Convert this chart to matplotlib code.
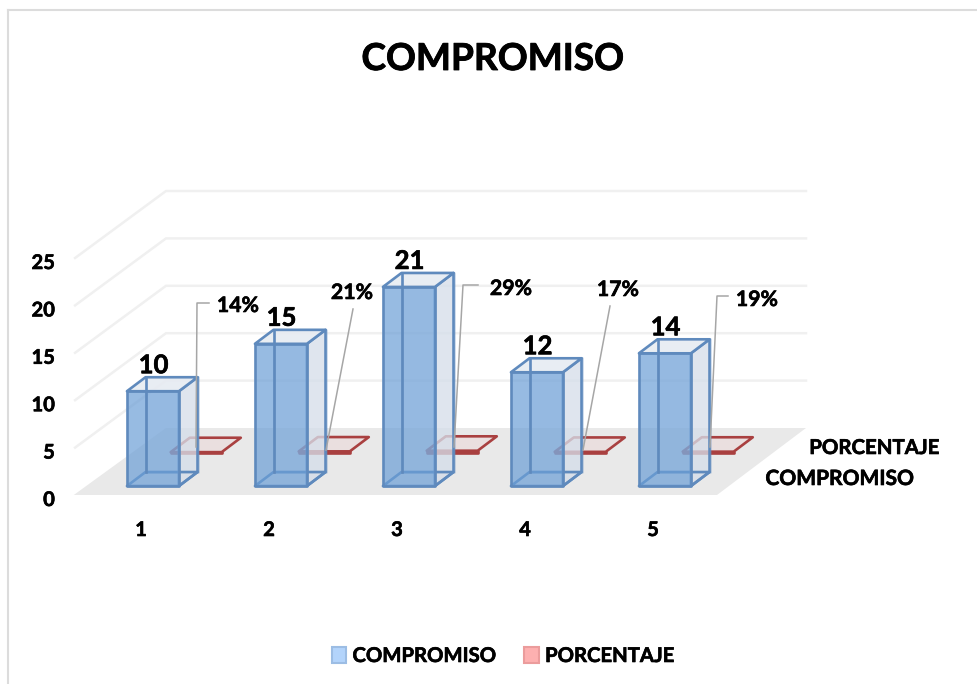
import matplotlib
matplotlib.use("Agg")
import matplotlib.pyplot as plt
import matplotlib.patheffects as pe
from matplotlib.patches import Patch
from matplotlib.transforms import Affine2D, ScaledTranslation

categories = [1, 2, 3, 4, 5]
compromiso = [10, 15, 21, 12, 14]
porcentaje = [0.14, 0.21, 0.29, 0.17, 0.19]
pct_labels = ["14%", "21%", "29%", "17%", "19%"]
y_ticks = [0, 5, 10, 15, 20, 25]
series_names = ["COMPROMISO", "PORCENTAJE"]
title_text = "COMPROMISO"

W, H = 977, 684
plt.rcParams["font.family"] = ["Lato", "DejaVu Sans"]
plt.rcParams["font.weight"] = "bold"
BOLDER = [pe.withStroke(linewidth=0.45, foreground="black")]
fig = plt.figure(figsize=(W / 100, H / 100), dpi=100, facecolor="white")
ax = fig.add_axes([77 / W, 1 - 495 / H, 640 / W, 237 / H])
ax.set_xlim(0.5, 5.5)
ax.set_ylim(0, 25)
ax.patch.set_visible(False)
for s in ax.spines.values():
    s.set_visible(False)
ax.set_xticks(categories)
ax.set_yticks(y_ticks)
ax.tick_params(axis="both", length=0, labelsize=14.5)
ax.tick_params(axis="x", pad=18)
ax.tick_params(axis="y", pad=16)
down = ScaledTranslation(0, -3 / 100, fig.dpi_scale_trans)
for lab in ax.get_yticklabels():
    lab.set_transform(lab.get_transform() + down)
    lab.set_path_effects(BOLDER)
for lab in ax.get_xticklabels():
    lab.set_path_effects(BOLDER)

pix = Affine2D().scale(1, -1).translate(0, H)  # pixel coordinates, y from the top
UX, UY = 128.0, 237 / 25
DX, DY = 89.0, 67.0


def proj(x, v, d):
    """Oblique projection of (category, value, depth) to axes data."""
    return x + d * DX / UX, v + d * DY / UY


def face(pts, **kw):
    xs, ys = zip(*[proj(*p) for p in pts])
    ax.fill(xs, ys, clip_on=False, **kw)


# chart frame
fig.add_artist(plt.Line2D([8, 8], [H, 9.5], color="#dcdcdc", lw=1.5, transform=pix))
fig.add_artist(plt.Line2D([8, W], [9.5, 9.5], color="#dcdcdc", lw=1.5, transform=pix))

# floor and gridlines
face([(0.475, 0, 0), (5.5, 0, 0), (5.5, 0, 1), (0.5, 0, 1)], fc="#e9e9e9", ec="none", zorder=1)
for v in y_ticks[1:]:
    xs, ys = zip(proj(0.485, v, 0), proj(0.5, v, 1), proj(5.5, v, 1))
    ax.plot(xs, ys, color="#f0f0f0", lw=1.8, clip_on=False, zorder=1)

# percentage series: flat boxes on the floor
R_EDGE = "#a94040"
hw = 25.5 / UX
for c, p in zip(categories, porcentaje):
    d0, d1 = 0.62, 0.835
    face([(c - hw, p, d0), (c + hw, p, d0), (c + hw, p, d1), (c - hw, p, d1)],
         fc="#eadfdf", ec=R_EDGE, lw=1.9, joinstyle="round", zorder=2)
    face([(c - hw, 0, d0), (c + hw, 0, d0), (c + hw, p, d0), (c - hw, p, d0)],
         fc=R_EDGE, ec=R_EDGE, lw=1.9, joinstyle="round", zorder=2)

# commitment series: translucent boxes
B_EDGE = "#5f8abd"
hw = 26 / UX
for c, v in zip(categories, compromiso):
    d0, d1 = 0.134, 0.343
    kw = dict(ec=B_EDGE, lw=1.9, joinstyle="round")
    face([(c - hw, 0, d1), (c + hw, 0, d1), (c + hw, v, d1), (c - hw, v, d1)],
         fc="#eef1f5", alpha=0.35, zorder=3, **kw)
    face([(c + hw, 0, d0), (c + hw, 0, d1), (c + hw, v, d1), (c + hw, v, d0)],
         fc=(0.82, 0.86, 0.91, 0.65), zorder=4, **kw)
    face([(c - hw, v, d0), (c + hw, v, d0), (c + hw, v, d1), (c - hw, v, d1)],
         fc=(0.90, 0.92, 0.95, 0.85), zorder=4, **kw)
    face([(c - hw, 0, d0), (c + hw, 0, d0), (c + hw, 0, d1), (c - hw, 0, d1)],
         fc=(1, 1, 1, 0.0), zorder=4, **kw)
    xs, ys = zip(proj(c - hw, 0, d1), proj(c - hw, v, d1))
    ax.plot(xs, ys, color=B_EDGE, lw=1.9, zorder=6, clip_on=False)
    face([(c - hw, 0, d0), (c + hw, 0, d0), (c + hw, v, d0), (c - hw, v, d0)],
         fc=(0.42, 0.62, 0.84, 0.70), zorder=5, **kw)
    tx, ty = proj(c, v, d1)
    ax.annotate(str(v), (tx, ty), xytext=(-18, 0), textcoords="offset pixels",
                ha="center", va="bottom", fontsize=18.5, zorder=8, annotation_clip=False,
                path_effects=BOLDER)

# percentage labels with leader lines (pixel coordinates)
leaders = [
    [(196, 447), (197, 303), (209, 303)],
    [(326, 450), (353, 309)],
    [(454, 447), (463, 285), (478, 285)],
    [(583, 450), (610, 306)],
    [(710, 447), (717, 296), (728, 296)],
]
label_xy = [(238, 306), (352, 293), (511, 289), (618, 290), (757, 300)]
for path, (lx, ly), s in zip(leaders, label_xy, pct_labels):
    xs, ys = zip(*path)
    fig.add_artist(plt.Line2D(xs, ys, color="#a6a6a6", lw=1.1, transform=pix, zorder=7))
    fig.text(lx / W, 1 - ly / H, s, ha="center", va="center", fontsize=15.3, path_effects=BOLDER)

# depth-axis series names
fig.text(874 / W, 1 - 448 / H, series_names[1], ha="center", va="center", fontsize=14.7, path_effects=BOLDER)
fig.text(840 / W, 1 - 479 / H, series_names[0], ha="center", va="center", fontsize=15.1, path_effects=BOLDER)

fig.text(493 / W, 1 - 59.5 / H, title_text, ha="center", va="center", fontsize=26.7,
         path_effects=[pe.withStroke(linewidth=0.6, foreground="black")])

handles = [Patch(fc="#b3d4fb", ec="#9cbde4", lw=1.5), Patch(fc="#fdb0b0", ec="#eb9c9c", lw=1.5)]
leg = fig.legend(handles, series_names, loc="center", bbox_to_anchor=(503 / W, 1 - 656 / H),
                 ncol=2, frameon=False, fontsize=14.6, handlelength=0.72, handleheight=0.8,
                 handletextpad=0.3, columnspacing=1.4)
for t in leg.get_texts():
    t.set_path_effects(BOLDER)

fig.savefig("out.png", dpi=100)
